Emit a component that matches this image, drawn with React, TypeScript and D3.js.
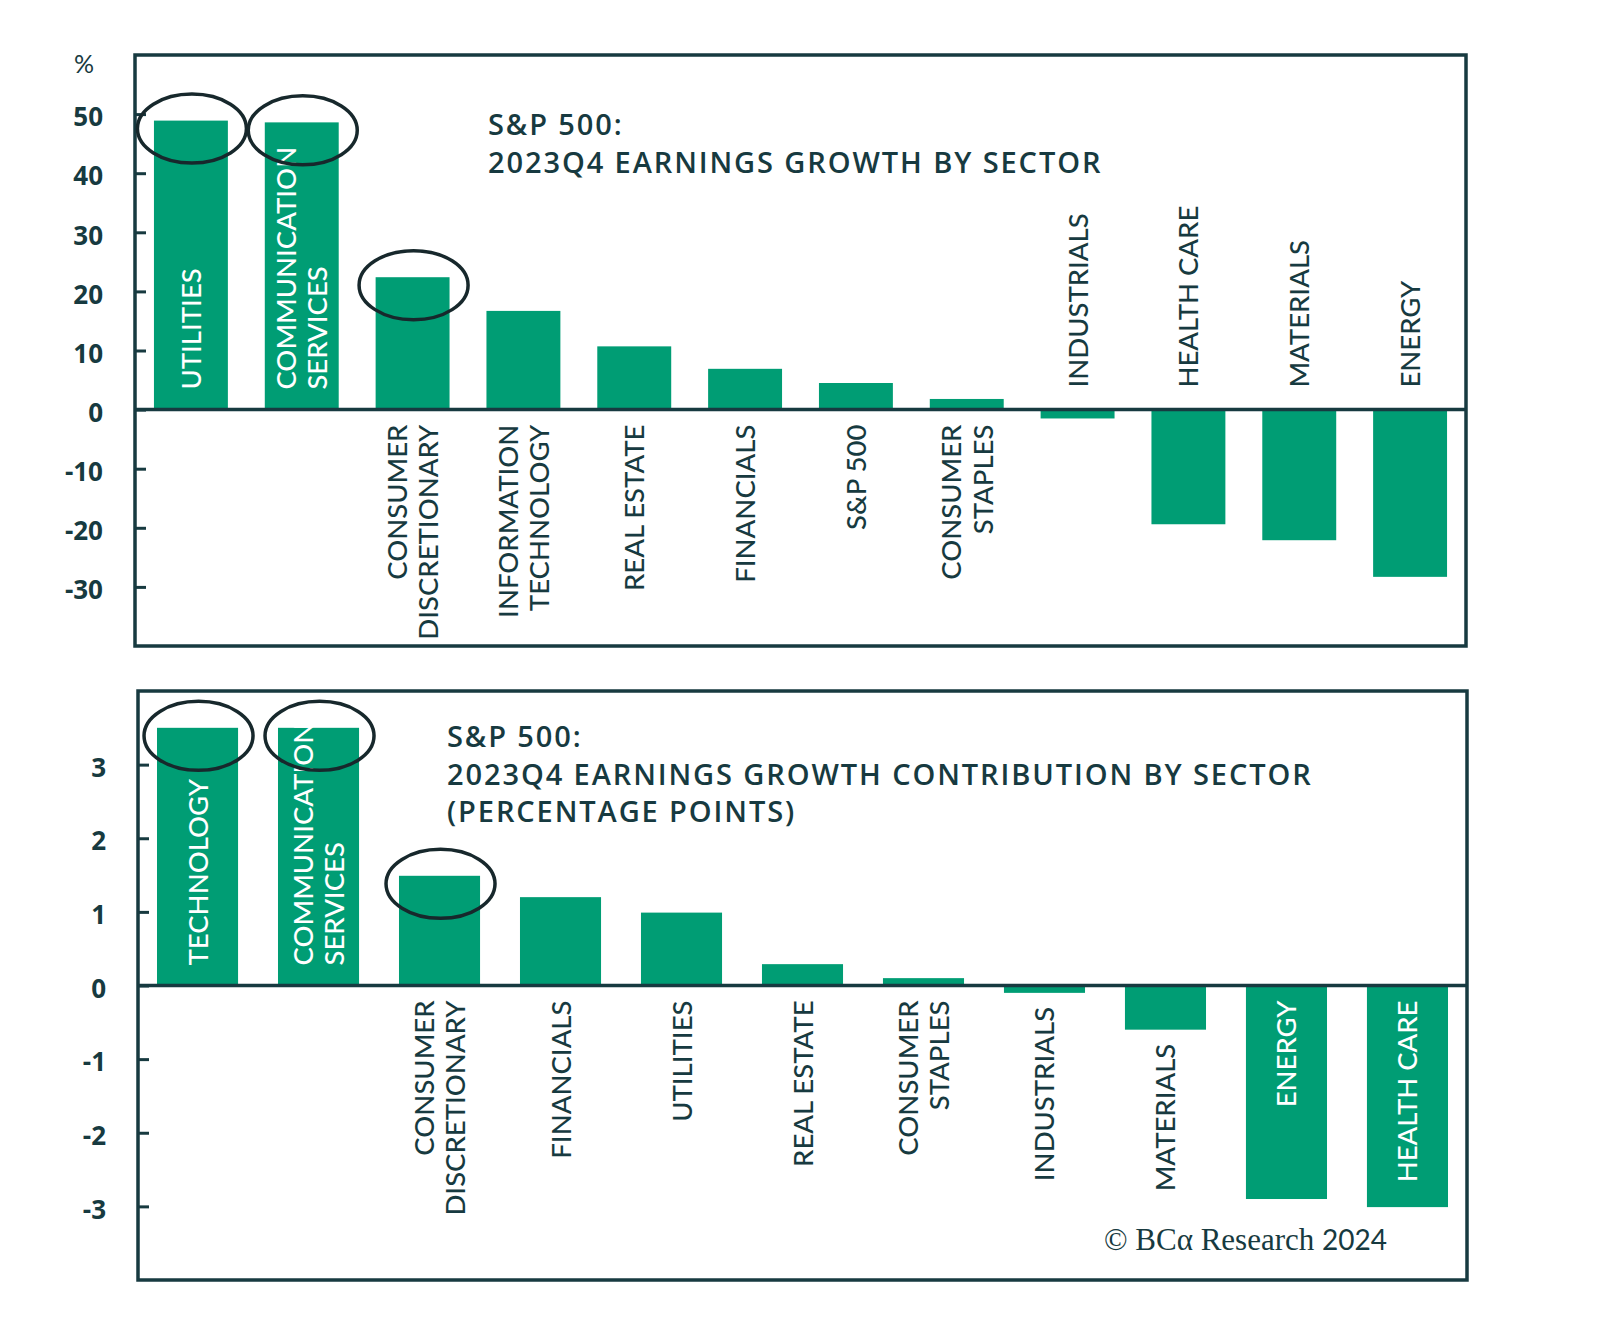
import { useEffect, useRef } from 'react';
import * as d3 from 'd3';

// top chart: earnings growth, %
const growthSectors = [
  'UTILITIES',
  'COMMUNICATION\nSERVICES',
  'CONSUMER\nDISCRETIONARY',
  'INFORMATION\nTECHNOLOGY',
  'REAL ESTATE',
  'FINANCIALS',
  'S&P 500',
  'CONSUMER\nSTAPLES',
  'INDUSTRIALS',
  'HEALTH CARE',
  'MATERIALS',
  'ENERGY',
];
const growthValues = [48.9, 48.6, 22.4, 16.7, 10.7, 6.9, 4.5, 1.8, -1.5, -19.4, -22.1, -28.3];
const growthTicks = [50, 40, 30, 20, 10, 0, -10, -20, -30];
const growthCircled = ['UTILITIES', 'COMMUNICATION\nSERVICES', 'CONSUMER\nDISCRETIONARY'];
const growthTitle = ['S&P 500:', '2023Q4 EARNINGS GROWTH BY SECTOR'];

// bottom chart: contribution, percentage points
const contribSectors = [
  'TECHNOLOGY',
  'COMMUNICATION\nSERVICES',
  'CONSUMER\nDISCRETIONARY',
  'FINANCIALS',
  'UTILITIES',
  'REAL ESTATE',
  'CONSUMER\nSTAPLES',
  'INDUSTRIALS',
  'MATERIALS',
  'ENERGY',
  'HEALTH CARE',
];
const contribValues = [3.5, 3.5, 1.49, 1.2, 0.99, 0.29, 0.1, -0.1, -0.6, -2.9, -3.01];
const contribTicks = [3, 2, 1, 0, -1, -2, -3];
const contribCircled = ['TECHNOLOGY', 'COMMUNICATION\nSERVICES', 'CONSUMER\nDISCRETIONARY'];
const contribTitle = [
  'S&P 500:',
  '2023Q4 EARNINGS GROWTH CONTRIBUTION BY SECTOR',
  '(PERCENTAGE POINTS)',
];

const W = 1600;
const H = 1318;
const GREEN = '#009d74';
const DARK = '#173a40';
const RING = '#17282c';
const SANS = "Lato, 'Open Sans', sans-serif";
const HEAVY = "'Open Sans', Lato, sans-serif";

interface Panel {
  sectors: string[];
  values: number[];
  ticks: number[];
  circled: string[];
  title: string[];
  domain: [number, number];
  left: number;
  right: number;
  top: number;
  bottom: number;
  padInner: number;
  padOuter: number;
  titleX: number;
  titleY: number;
  negLabelsAbove: boolean;
  unit?: string;
}

const panels: Panel[] = [
  {
    sectors: growthSectors,
    values: growthValues,
    ticks: growthTicks,
    circled: growthCircled,
    title: growthTitle,
    domain: [-40, 60],
    left: 135,
    right: 1466,
    top: 55,
    bottom: 646,
    padInner: 0.333,
    padOuter: 0.171,
    titleX: 488,
    titleY: 135,
    negLabelsAbove: true,
    unit: '%',
  },
  {
    sectors: contribSectors,
    values: contribValues,
    ticks: contribTicks,
    circled: contribCircled,
    title: contribTitle,
    domain: [-4, 4],
    left: 138,
    right: 1467,
    top: 691,
    bottom: 1280,
    padInner: 0.33,
    padOuter: 0.157,
    titleX: 447,
    titleY: 747,
    negLabelsAbove: false,
  },
];

function drawPanel(svg: d3.Selection<SVGSVGElement, unknown, null, undefined>, p: Panel) {
  const x = d3.scaleBand<string>()
    .domain(p.sectors)
    .range([p.left, p.right])
    .paddingInner(p.padInner)
    .paddingOuter(p.padOuter);

  const y = d3.scaleLinear().domain(p.domain).range([p.bottom, p.top]);
  const y0 = y(0);
  const g = svg.append('g');

  // Bars
  g.selectAll('rect.bar')
    .data(p.sectors)
    .enter().append('rect')
    .attr('class', 'bar')
    .attr('x', d => x(d) || 0)
    .attr('width', x.bandwidth())
    .attr('y', (d, i) => Math.min(y(p.values[i]), y0))
    .attr('height', (d, i) => Math.abs(y(p.values[i]) - y0))
    .attr('fill', GREEN);

  // Y axis: ticks point inwards, labels on the left
  const axis = g.append('g')
    .attr('transform', `translate(${p.left},0)`)
    .call(d3.axisLeft(y).tickValues(p.ticks).tickSize(-11).tickPadding(32).tickFormat(d => String(d)));
  axis.select('.domain').remove();
  axis.selectAll('line').attr('stroke', DARK).attr('stroke-width', 3);
  axis.selectAll('text')
    .attr('fill', DARK)
    .attr('dy', '0.45em')
    .style('font-family', HEAVY)
    .style('font-weight', '700')
    .style('font-size', '26px');

  if (p.unit) {
    g.append('text')
      .attr('x', 84)
      .attr('y', 73)
      .attr('text-anchor', 'middle')
      .attr('fill', DARK)
      .style('font-family', SANS)
      .style('font-size', '25px')
      .text(p.unit);
  }

  // Zero line and frame
  g.append('line')
    .attr('x1', p.left).attr('x2', p.right)
    .attr('y1', y0).attr('y2', y0)
    .attr('stroke', DARK).attr('stroke-width', 3.5);

  g.append('rect')
    .attr('x', p.left).attr('y', p.top)
    .attr('width', p.right - p.left).attr('height', p.bottom - p.top)
    .attr('fill', 'none')
    .attr('stroke', DARK).attr('stroke-width', 3.5);

  // Sector labels, rotated
  const lineGap = 31.5;
  const cap = 20;
  p.sectors.forEach((d, i) => {
    const v = p.values[i];
    const lines = d.split('\n');
    const cx = (x(d) || 0) + x.bandwidth() / 2;
    const t = g.append('text')
      .style('font-family', SANS)
      .style('font-size', '27.5px')
      .style('font-weight', '500');
    lines.forEach((ln, j) => {
      t.append('tspan')
        .attr('x', 0)
        .attr('y', (j - (lines.length - 1) / 2) * lineGap + cap / 2)
        .text(ln);
    });
    let len = 0;
    t.selectAll<SVGTSpanElement, unknown>('tspan').each(function () {
      len = Math.max(len, this.getComputedTextLength());
    });
    const barLen = Math.abs(y(v) - y0);
    const fits = len + 12 < barLen;

    let anchor = 'end';
    let ay = y0 + 15;
    let color = DARK;
    if (v >= 0) {
      if (fits) { anchor = 'start'; ay = y0 - 20; color = '#ffffff'; }
    } else if (p.negLabelsAbove) {
      anchor = 'start'; ay = y0 - 22;
    } else if (fits) {
      color = '#ffffff';
    } else {
      ay = y(v) + 14;
    }
    t.attr('text-anchor', anchor)
      .attr('fill', color)
      .attr('transform', `translate(${cx},${ay}) rotate(-90)`);
  });

  // Highlight rings
  g.selectAll('ellipse.ring')
    .data(p.circled)
    .enter().append('ellipse')
    .attr('class', 'ring')
    .attr('cx', d => (x(d) || 0) + x.bandwidth() / 2 + 1)
    .attr('cy', d => y(p.values[p.sectors.indexOf(d)]) + 8)
    .attr('rx', 54.5)
    .attr('ry', 34.5)
    .attr('fill', 'none')
    .attr('stroke', RING)
    .attr('stroke-width', 3.5);

  // Title
  const title = g.append('text')
    .attr('fill', DARK)
    .style('font-family', HEAVY)
    .style('font-weight', '600')
    .style('font-size', '29px')
    .style('letter-spacing', '1.9px');
  p.title.forEach((ln, j) => {
    title.append('tspan')
      .attr('x', p.titleX)
      .attr('y', p.titleY + j * 37.5)
      .text(ln);
  });
}

export default function App() {
  const svgRef = useRef<SVGSVGElement>(null);

  useEffect(() => {
    if (!svgRef.current) return;
    const svg = d3.select(svgRef.current);
    svg.selectAll('*').remove();

    svg.append('rect').attr('width', W).attr('height', H).attr('fill', '#ffffff');
    panels.forEach(p => drawPanel(svg, p));

    const credit = svg.append('text')
      .attr('x', 1104)
      .attr('y', 1250)
      .attr('fill', DARK)
      .style('font-family', "'Liberation Serif', serif")
      .style('font-size', '31px');
    credit.append('tspan').text('© BCα Research ');
    credit.append('tspan').style('font-family', SANS).style('font-size', '28px').text('2024');
  }, []);

  return (
    <div style={{ position: 'absolute', left: 0, top: 0 }}>
      <svg ref={svgRef} width={W} height={H} style={{ display: 'block' }} />
    </div>
  );
}
